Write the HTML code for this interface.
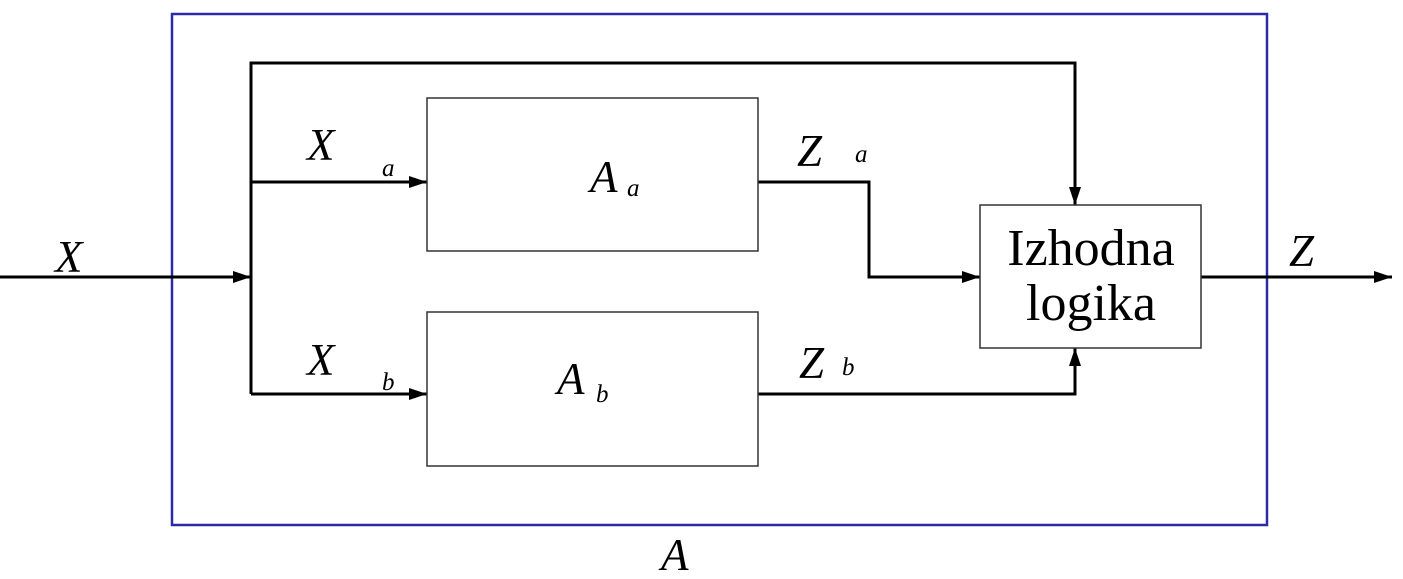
<!DOCTYPE html>
<html><head><meta charset="utf-8"><style>body{margin:0;background:#fff}svg{display:block}</style></head><body>
<svg width="1403" height="579" viewBox="0 0 1403 579" xmlns="http://www.w3.org/2000/svg">
<defs>
<marker id="ar2" markerWidth="18" markerHeight="12" refX="18" refY="6" orient="auto" markerUnits="userSpaceOnUse" viewBox="0 0 18 12"><path d="M0,0 L18,6 L0,12 z" fill="#000"/></marker></defs>
<rect x="172" y="14" width="1095" height="511" fill="none" stroke="#2b2ba8" stroke-width="2.5"/>
<g fill="none" stroke="#000" stroke-width="3">
<line x1="0" y1="277" x2="251" y2="277" marker-end="url(#ar2)"/>
<polyline points="251,394 251,63 1075,63 1075,205" marker-end="url(#ar2)"/>
<line x1="251" y1="182" x2="427" y2="182" marker-end="url(#ar2)"/>
<line x1="251" y1="394" x2="427" y2="394" marker-end="url(#ar2)"/>
<polyline points="758,182 869,182 869,277 980,277" marker-end="url(#ar2)"/>
<polyline points="758,394 1075,394 1075,348" marker-end="url(#ar2)"/>
<line x1="1201" y1="277" x2="1392" y2="277" marker-end="url(#ar2)"/>
</g>
<g fill="#fff" stroke="#333" stroke-width="1.5">
<rect x="427" y="98" width="331" height="153"/>
<rect x="427" y="312" width="331" height="154"/>
<rect x="980" y="205" width="221" height="143"/>
</g>
<g font-family="Liberation Serif, serif" font-style="italic" fill="#000">
<text x="55" y="272" font-size="45">X</text>
<text x="307" y="160" font-size="45">X</text><text x="382" y="176" font-size="25">a</text>
<text x="307" y="375" font-size="45">X</text><text x="382" y="390" font-size="25">b</text>
<text x="590" y="192" font-size="45">A</text><text x="627" y="196" font-size="25">a</text>
<text x="557" y="394" font-size="45">A</text><text x="596" y="402" font-size="25">b</text>
<text x="797" y="166" font-size="45">Z</text><text x="855" y="162" font-size="25">a</text>
<text x="799" y="378" font-size="45">Z</text><text x="842" y="375" font-size="25">b</text>
<text x="1289" y="266" font-size="45">Z</text>
<text x="661" y="570" font-size="45">A</text>
</g>
<g font-family="Liberation Serif, serif" font-size="52" fill="#000" text-anchor="middle">
<text x="1091" y="265">Izhodna</text>
<text x="1091" y="320">logika</text>
</g>
</svg>
</body></html>
